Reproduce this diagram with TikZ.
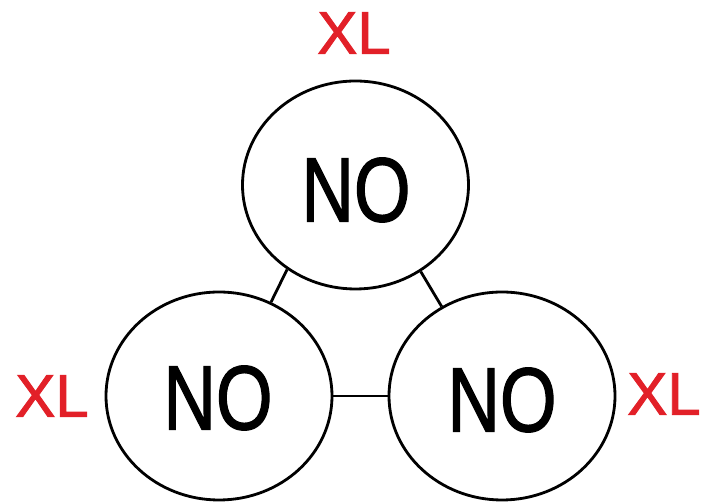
\documentclass[tikz,border=0pt]{standalone}
\usepackage{fontspec}
\setmainfont{Liberation Sans}
\newfontfamily\heavysans[FakeBold=1.6]{Liberation Sans}
\usetikzlibrary{shapes.geometric}
\definecolor{xlred}{RGB}{226,32,40}
\tikzset{
  bubble/.style={ellipse,draw=black,line width=2.8pt,minimum width=226pt,minimum height=208pt,inner sep=0pt},
  notext/.style={inner sep=0pt,font=\heavysans\fontsize{91}{91}\selectfont},
  xl/.style={text=xlred,inner sep=0pt,font=\heavysans\fontsize{60}{60}\selectfont},
  link/.style={draw=black,line width=2.8pt}
}
\newcommand{\narrowNO}{\scalebox{0.8}[1]{NO}}
\begin{document}
\begin{tikzpicture}[x=1pt,y=1pt]
\useasboundingbox (0,0) rectangle (702,502);
\node[bubble] (top) at (355.5,317) {};
\node[bubble] (bl) at (219,106) {};
\node[bubble] (br) at (502,106) {};
\node[notext] (ntop) at (356,312) {\narrowNO};
\node[notext] (nbl) at (218,104) {\narrowNO};
\node[notext] (nbr) at (502,102) {\narrowNO};
\node[xl] (xltop) at (354,469) {XL};
\node[xl] (xlbl) at (52,106) {XL};
\node[xl] (xlbr) at (664,108) {XL};
\draw[link] (top.231) -- (bl.61);
\draw[link] (top.307) -- (br.124);
\draw[link] (bl.east) -- (br.west);
\end{tikzpicture}
\end{document}
